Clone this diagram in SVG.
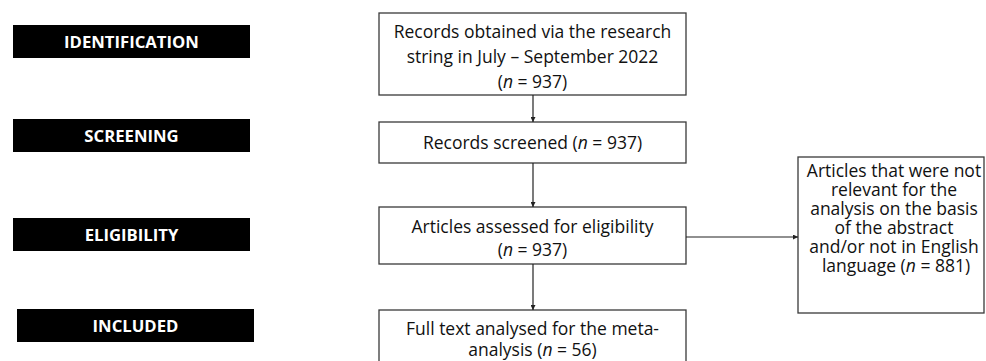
<svg xmlns="http://www.w3.org/2000/svg" width="986" height="361" viewBox="0 0 986 361">
<style>
.bar{fill:#000}
.bt{font-family:"Open Sans","Liberation Sans",sans-serif;font-weight:bold;font-size:16.7px;fill:#fff;text-anchor:middle}
.box{fill:#fff;stroke:#3a3a3a;stroke-width:1.3}
.t{font-family:"Open Sans","Liberation Sans",sans-serif;font-size:17.5px;fill:#111;text-anchor:middle}
.rt{font-family:"Open Sans","Liberation Sans",sans-serif;font-size:17.5px;fill:#111;text-anchor:middle}
.c{stroke:#222;stroke-width:1.2;fill:none;marker-end:url(#ah)}
</style>
<defs>
<marker id="ah" viewBox="0 0 10 10" refX="10" refY="5" markerWidth="5" markerHeight="5" orient="auto" markerUnits="userSpaceOnUse">
<path d="M0,0 L10,5 L0,10 z" fill="#222"/>
</marker>
</defs>
<rect width="986" height="361" fill="#fff"/>
<g id="stage-identification"><rect class="bar" x="13" y="25" width="237" height="33"/><text class="bt" x="131.5" y="48">IDENTIFICATION</text></g>
<g id="stage-screening"><rect class="bar" x="13" y="119" width="237" height="33"/><text class="bt" x="131.5" y="142">SCREENING</text></g>
<g id="stage-eligibility"><rect class="bar" x="13" y="218" width="237" height="33"/><text class="bt" x="131.5" y="241">ELIGIBILITY</text></g>
<g id="stage-included"><rect class="bar" x="17" y="309" width="237" height="33"/><text class="bt" x="135.5" y="332">INCLUDED</text></g>
<g id="records-obtained"><rect class="box" x="379" y="13" width="307" height="82"/>
<text class="t" x="532.5" y="38">Records obtained via the research</text>
<text class="t" x="532.5" y="63">string in July – September 2022</text>
<text class="t" x="532.5" y="88">(<tspan font-style="italic">n</tspan> = 937)</text></g>
<g id="records-screened"><rect class="box" x="379" y="122" width="307" height="41"/>
<text class="t" x="532.5" y="149">Records screened (<tspan font-style="italic">n</tspan> = 937)</text></g>
<g id="articles-assessed"><rect class="box" x="379" y="207" width="307" height="57"/>
<text class="t" x="532.5" y="233">Articles assessed for eligibility</text>
<text class="t" x="532.5" y="256">(<tspan font-style="italic">n</tspan> = 937)</text></g>
<g id="full-text"><rect class="box" x="379" y="310" width="307" height="60"/>
<text class="t" x="532.5" y="335">Full text analysed for the meta-</text>
<text class="t" x="532.5" y="356">analysis (<tspan font-style="italic">n</tspan> = 56)</text></g>
<g id="excluded"><rect class="box" x="798" y="157" width="186" height="156"/>
<text class="rt" x="894" y="177">Articles that were not</text>
<text class="rt" x="894" y="196">relevant for the</text>
<text class="rt" x="894" y="215">analysis on the basis</text>
<text class="rt" x="894" y="234">of the abstract</text>
<text class="rt" x="894" y="253">and/or not in English</text>
<text class="rt" x="896" y="272">language (<tspan font-style="italic">n</tspan> = 881)</text></g>
<g id="connectors">
<line class="c" x1="533" y1="95" x2="533" y2="122"/>
<line class="c" x1="533" y1="163" x2="533" y2="207"/>
<line class="c" x1="533" y1="264" x2="533" y2="310"/>
<line class="c" x1="686" y1="237" x2="798" y2="237"/>
</g>
</svg>
